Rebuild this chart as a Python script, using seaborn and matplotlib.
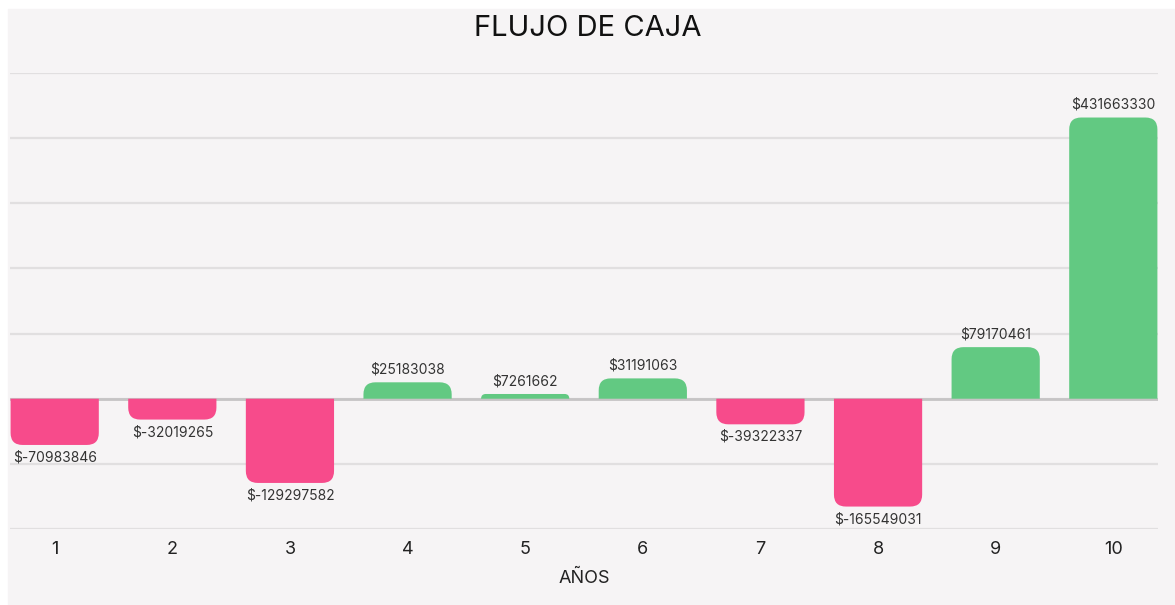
import numpy as np
import pandas as pd
import matplotlib.pyplot as plt
import seaborn as sns
from matplotlib.path import Path
from matplotlib.patches import PathPatch, Rectangle

# datos del flujo de caja
anios = ['1', '2', '3', '4', '5', '6', '7', '8', '9', '10']
flujo = [-70983846, -32019265, -129297582, 25183038, 7261662,
         31191063, -39322337, -165549031, 79170461, 431663330]

rosa = '#f74b8b'
verde = '#62c982'
fondo = '#f6f4f5'

df = pd.DataFrame({'anio': anios, 'flujo': flujo})
df['signo'] = np.where(df.flujo < 0, 'neg', 'pos')

sns.set_theme(style='white')
plt.rcParams['font.family'] = ['Inter', 'DejaVu Sans']

fig = plt.figure(figsize=(11.75, 6.05), dpi=100)
fig.patch.set_facecolor('white')
fig.patches.append(Rectangle((8/1175, 0), 1 - 8/1175, (605 - 9)/605,
                             transform=fig.transFigure, color=fondo, zorder=-10))
ax = fig.add_axes([10/1175, 76/605, 1148/1175, 456/605])
ax.set_facecolor(fondo)

sns.barplot(data=df, x='anio', y='flujo', hue='signo', palette={'neg': rosa, 'pos': verde},
            width=0.75, dodge=False, legend=False, saturation=1, ax=ax)

ax.set_xlim(-0.38, 9.38)
ax.set_ylim(-200e6, 500e6)
ax.set_yticks(np.arange(-200e6, 500e6 + 1, 100e6))
ax.yaxis.grid(True, color='#e1dfe0', lw=1.6)
ax.set_axisbelow(True)
ax.axhline(0, color='#c6c4c5', lw=2, zorder=1)
for s in ax.spines.values():
    s.set_visible(False)
ax.tick_params(axis='y', left=False, labelleft=False)
ax.tick_params(axis='x', length=0, pad=9, labelsize=13, labelcolor='#222222')
ax.set_ylabel('')
ax.set_xlabel('AÑOS', fontsize=13, color='#222222', labelpad=8)

# esquinas redondeadas en el extremo de cada barra
px_x = ax.transData.transform((1, 0))[0] - ax.transData.transform((0, 0))[0]
px_y = ax.transData.transform((0, 1e6))[1] - ax.transData.transform((0, 0))[1]
rects = list(ax.patches)
for p in rects:
    x0, w, h = p.get_x(), p.get_width(), p.get_height()
    if h == 0:
        continue
    color = p.get_facecolor()
    p.remove()
    r = min(12, abs(h) / 1e6 * px_y)
    rx = r / px_x
    ry = r / px_y * 1e6
    s = 1 if h > 0 else -1
    x1 = x0 + w
    tip = h
    verts = [(x0, 0), (x0, tip - s*ry), (x0, tip), (x0 + rx, tip),
             (x1 - rx, tip), (x1, tip), (x1, tip - s*ry), (x1, 0), (x0, 0)]
    codes = [Path.MOVETO, Path.LINETO, Path.CURVE3, Path.CURVE3,
             Path.LINETO, Path.CURVE3, Path.CURVE3, Path.LINETO, Path.CLOSEPOLY]
    ax.add_patch(PathPatch(Path(verts, codes), facecolor=color, edgecolor='none', zorder=2))

for i, v in enumerate(flujo):
    off = 4 if v > 0 else -4
    ax.annotate(f'${v}', (i, v), xytext=(0, off), textcoords='offset points',
                ha='center', va='bottom' if v > 0 else 'top', fontsize=10, color='#333333')

fig.text(0.5, 1 - 28/605, 'FLUJO DE CAJA', ha='center', va='center', fontsize=21, color='#111111')

fig.savefig('out.png', dpi=100, facecolor='white')
